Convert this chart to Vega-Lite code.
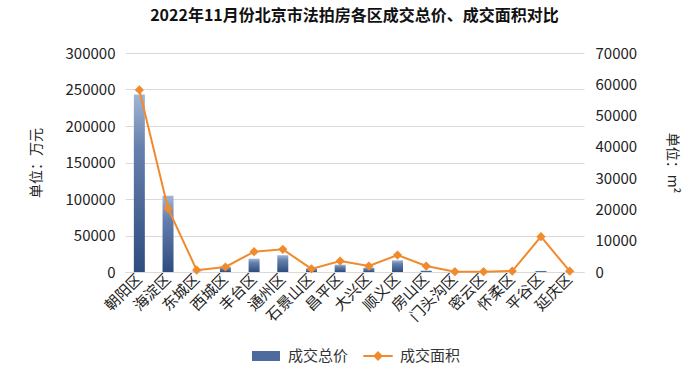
{
  "$schema": "https://vega.github.io/schema/vega-lite/v6.json",
  "width": 700,
  "height": 379,
  "autosize": {"type": "fit", "contains": "padding"},
  "padding": {"left": 29, "right": 21, "top": 8, "bottom": 54},
  "background": "white",
  "title": {"text": "2022年11月份北京市法拍房各区成交总价、成交面积对比", "font": "Noto Sans CJK SC", "fontSize": 16, "fontWeight": "bold", "color": "#111", "anchor": "middle", "offset": 22},
  "config": {
    "font": "Noto Sans CJK SC",
    "view": {"stroke": null},
    "axis": {"labelFont": "Noto Sans CJK SC", "labelFontSize": 15, "labelColor": "#222", "titleFont": "Noto Sans CJK SC", "titleFontSize": 14, "titleColor": "#222", "titleFontWeight": "normal", "ticks": false, "domain": false, "gridColor": "#d9d9d9"}
  },
  "data": {"values": [
    {"district": "朝阳区", "price": 243000, "area": 58200},
    {"district": "海淀区", "price": 104500, "area": 20300},
    {"district": "东城区", "price": 600, "area": 600},
    {"district": "西城区", "price": 7000, "area": 1600},
    {"district": "丰台区", "price": 18200, "area": 6500},
    {"district": "通州区", "price": 23000, "area": 7250},
    {"district": "石景山区", "price": 5000, "area": 1000},
    {"district": "昌平区", "price": 10000, "area": 3500},
    {"district": "大兴区", "price": 6000, "area": 1900},
    {"district": "顺义区", "price": 16000, "area": 5400},
    {"district": "房山区", "price": 2000, "area": 1900},
    {"district": "门头沟区", "price": 200, "area": 100},
    {"district": "密云区", "price": 100, "area": 100},
    {"district": "怀柔区", "price": 100, "area": 300},
    {"district": "平谷区", "price": 1500, "area": 11300},
    {"district": "延庆区", "price": 300, "area": 300}
  ]},
  "encoding": {
    "x": {"field": "district", "type": "nominal", "sort": null,
      "scale": {"paddingInner": 0.5, "paddingOuter": 0.25},
      "axis": {"title": null, "labelAngle": -45, "labelAlign": "right", "labelBaseline": "middle", "labelPadding": 4, "domain": true, "domainColor": "#d9d9d9", "labelFontSize": 15}}
  },
  "layer": [
    {
      "mark": {"type": "bar", "size": 11, "color": {"gradient": "linear", "x1": 0, "y1": 0, "x2": 0, "y2": 1, "stops": [{"offset": 0, "color": "#a3b5d3"}, {"offset": 0.3, "color": "#6580ae"}, {"offset": 1, "color": "#2f4c7f"}]}},
      "encoding": {
        "y": {"field": "price", "type": "quantitative", "scale": {"domain": [0, 300000]},
          "axis": {"title": "单位：万元", "values": [0, 50000, 100000, 150000, 200000, 250000, 300000], "format": "d", "labelPadding": 10, "titlePadding": 22}}
      }
    },
    {
      "encoding": {
        "y": {"field": "area", "type": "quantitative", "scale": {"domain": [0, 70000]},
          "axis": {"orient": "right", "title": "单位：m²", "values": [0, 10000, 20000, 30000, 40000, 50000, 60000, 70000], "format": "d", "grid": false, "labelPadding": 11, "titlePadding": 28}}
      },
      "layer": [
        {"mark": {"type": "line", "strokeWidth": 2},
         "encoding": {
          "color": {"datum": "成交面积", "type": "nominal",
            "scale": {"domain": ["成交总价", "成交面积"], "range": ["#4d6b9c", "#f08a2c"]},
            "legend": {"title": null, "orient": "none", "legendX": 131, "legendY": 293, "direction": "horizontal", "labelFontSize": 15, "labelColor": "#333", "symbolSize": 300, "labelOffset": 12, "columnPadding": 10,
              "encode": {"symbols": {"update": {
                "shape": {"signal": "datum.value === '成交总价' ? 'M-1.5,-0.45H1.5V0.45H-1.5Z' : 'M-1.7,0H1.7M-0.4,0L0,-0.4L0.4,0L0,0.4Z'"},
                "strokeWidth": {"value": 2},
                "fill": {"signal": "datum.value === '成交总价' ? '#4d6b9c' : '#f08a2c'"},
                "stroke": {"signal": "datum.value === '成交总价' ? 'transparent' : '#f08a2c'"},
                "opacity": {"value": 1}, "fillOpacity": {"value": 1}, "strokeOpacity": {"value": 1}}}}}}
         }},
        {"mark": {"type": "point", "shape": "diamond", "filled": true, "size": 85, "color": "#f08a2c", "opacity": 1}}
      ]
    }
  ],
  "resolve": {"scale": {"y": "independent"}}
}
